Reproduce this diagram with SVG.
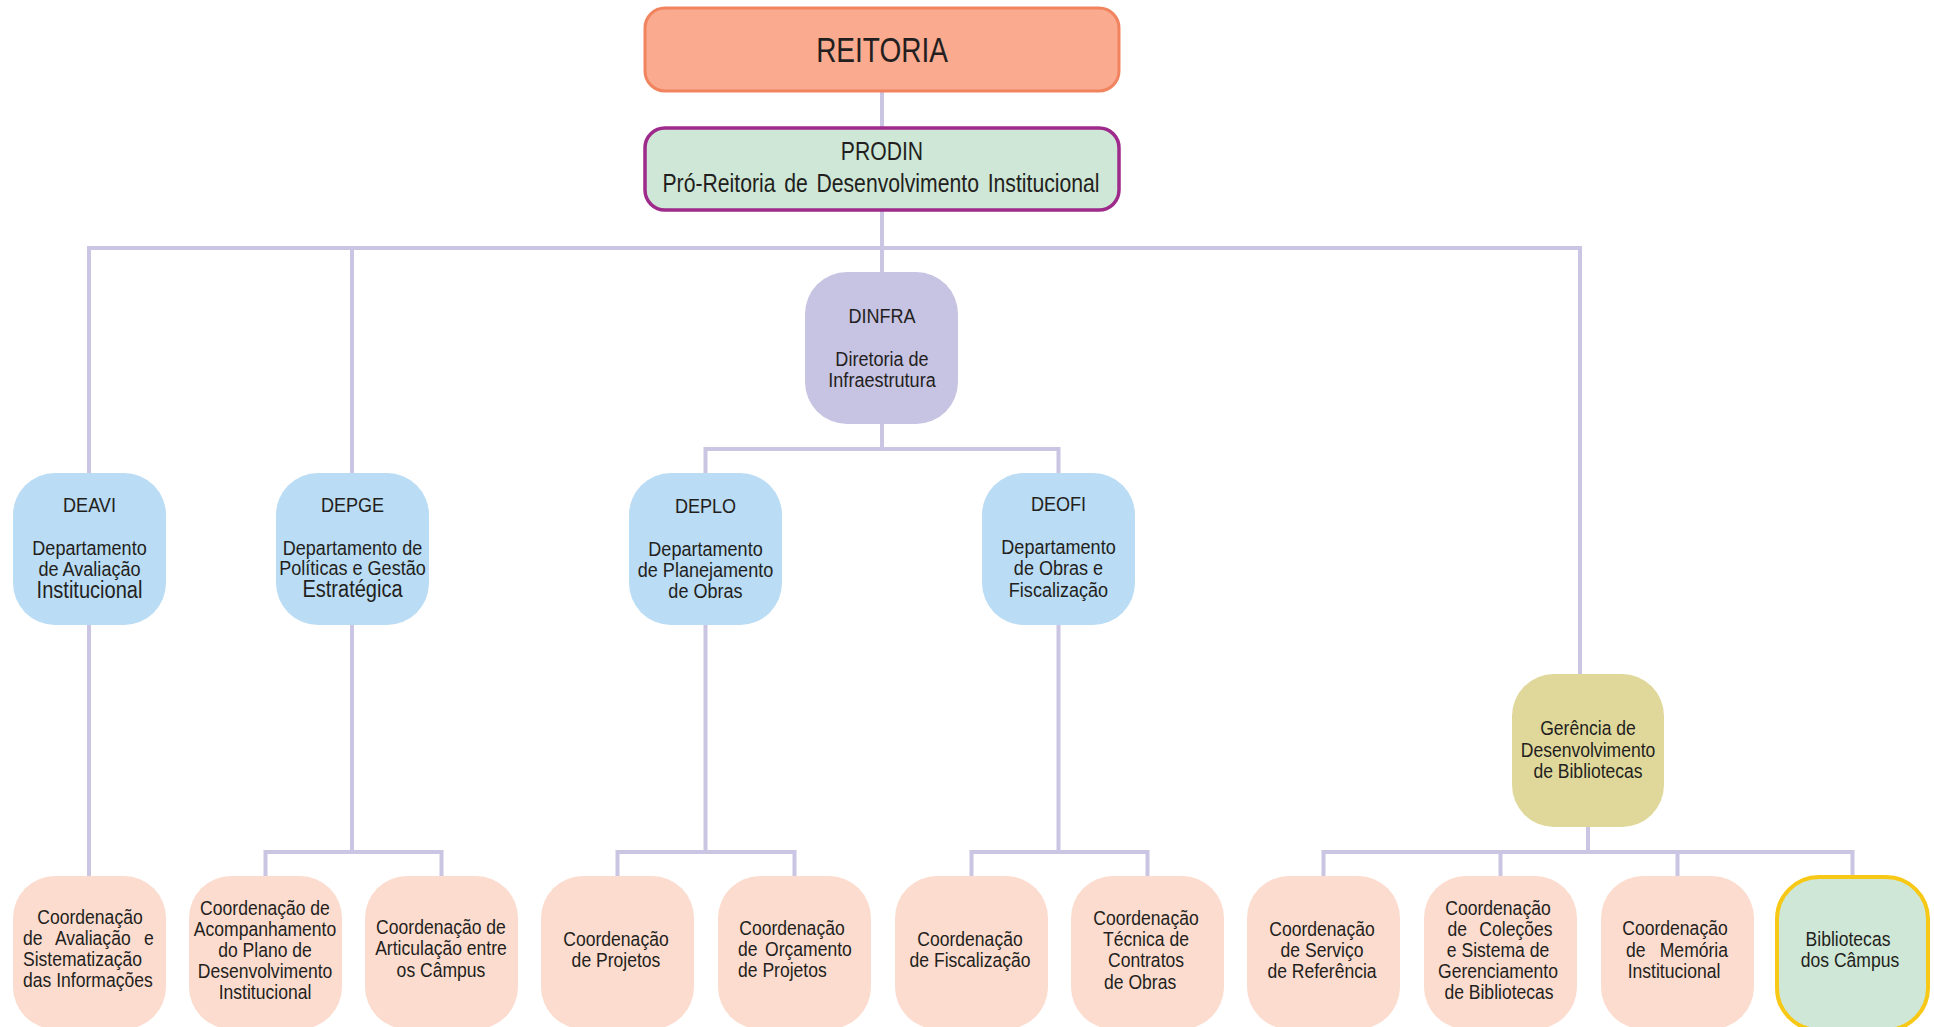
<svg xmlns="http://www.w3.org/2000/svg" width="1934" height="1027" viewBox="0 0 1934 1027">
<style>
.c{fill:none;stroke:#C9C5E3;stroke-width:4;stroke-linejoin:miter}
.t{font-family:"Liberation Sans",Arial,sans-serif;fill:#231F20;text-anchor:middle}
.s{text-anchor:start}
.f35{font-size:35px}.f25{font-size:26.5px}.f21{font-size:21px}.f23{font-size:23.3px}.f19{font-size:19.5px}
.blue{fill:#BADCF4}.peach{fill:#FCDCCF}
</style>
<rect width="1934" height="1027" fill="#FFFFFF"/>
<g id="connectors">
<path class="c" d="M882 91V127"/>
<path class="c" d="M882 210V272"/>
<path class="c" d="M89 473V248H1580V674"/>
<path class="c" d="M352 248V473"/>
<path class="c" d="M882 424V449"/>
<path class="c" d="M705.5 473V449H1058.5V473"/>
<path class="c" d="M89 625V876"/>
<path class="c" d="M352 625V852"/>
<path class="c" d="M265.5 876V852H441.5V876"/>
<path class="c" d="M705.5 625V852"/>
<path class="c" d="M617.5 876V852H794.5V876"/>
<path class="c" d="M1058.5 625V852"/>
<path class="c" d="M971.5 876V852H1147.5V876"/>
<path class="c" d="M1588 827V852"/>
<path class="c" d="M1323.5 876V852H1852.5V876"/>
<path class="c" d="M1500.5 852V876"/>
<path class="c" d="M1677.5 852V876"/>
</g>
<g id="reitoria">
<rect x="645" y="8" width="474" height="83" rx="20" fill="#F9AA8F" stroke="#F2835F" stroke-width="3"/>
<text class="t f35" transform="translate(882 62) scale(0.8 1)">REITORIA</text>
</g>
<g id="prodin">
<rect x="645" y="128" width="474" height="82" rx="20" fill="#CFE7D7" stroke="#9E2A8C" stroke-width="3.5"/>
<text class="t f25" transform="translate(882 160) scale(0.83 1)" style="font-size:25.5px">PRODIN</text>
<text class="t f25" transform="translate(881 192) scale(0.8 1)" style="word-spacing:3.5px">Pró-Reitoria de Desenvolvimento Institucional</text>
</g>
<g id="dinfra">
<rect x="805" y="272" width="153" height="152" rx="42" fill="#C7C3E2"/>
<text class="t f21" transform="translate(882 323) scale(0.86 1)">DINFRA</text>
<text class="t f21" transform="translate(882 366) scale(0.86 1)">Diretoria de</text>
<text class="t f21" transform="translate(882 387) scale(0.86 1)">Infraestrutura</text>
</g>
<g id="deavi">
<rect class="blue" x="13" y="473" width="153" height="152" rx="42"/>
<text class="t f21" transform="translate(89.5 512) scale(0.86 1)">DEAVI</text>
<text class="t f21" transform="translate(89.5 555) scale(0.86 1)">Departamento</text>
<text class="t f21" transform="translate(89.5 576) scale(0.86 1)">de Avaliação</text>
<text class="t f23" transform="translate(89.5 598) scale(0.86 1)">Institucional</text>
</g>
<g id="depge">
<rect class="blue" x="276" y="473" width="153" height="152" rx="42"/>
<text class="t f21" transform="translate(352.5 512) scale(0.86 1)">DEPGE</text>
<text class="t f21" transform="translate(352.5 555) scale(0.86 1)">Departamento de</text>
<text class="t f21" transform="translate(352.5 575) scale(0.86 1)">Políticas e Gestão</text>
<text class="t f23" transform="translate(352.5 597) scale(0.86 1)">Estratégica</text>
</g>
<g id="deplo">
<rect class="blue" x="629" y="473" width="153" height="152" rx="42"/>
<text class="t f21" transform="translate(705.5 513) scale(0.86 1)">DEPLO</text>
<text class="t f21" transform="translate(705.5 556) scale(0.86 1)">Departamento</text>
<text class="t f21" transform="translate(705.5 577) scale(0.86 1)">de Planejamento</text>
<text class="t f21" transform="translate(705.5 598) scale(0.86 1)">de Obras</text>
</g>
<g id="deofi">
<rect class="blue" x="982" y="473" width="153" height="152" rx="42"/>
<text class="t f21" transform="translate(1058.5 511) scale(0.86 1)">DEOFI</text>
<text class="t f21" transform="translate(1058.5 554) scale(0.86 1)">Departamento</text>
<text class="t f21" transform="translate(1058.5 575) scale(0.86 1)">de Obras e</text>
<text class="t f21" transform="translate(1058.5 597) scale(0.86 1)">Fiscalização</text>
</g>
<g id="gerencia">
<rect x="1512" y="674" width="152" height="153" rx="42" fill="#E0D89B"/>
<text class="t f19" transform="translate(1588 735) scale(0.9 1)">Gerência de</text>
<text class="t f19" transform="translate(1588 757) scale(0.9 1)">Desenvolvimento</text>
<text class="t f19" transform="translate(1588 778) scale(0.9 1)">de Bibliotecas</text>
</g>
<g id="coord-avaliacao">
<rect class="peach" x="13" y="876" width="153" height="153" rx="42"/>
<text class="t f19" transform="translate(90 924) scale(0.9 1)">Coordenação</text>
<text class="t f19 s" transform="translate(23 945) scale(0.9 1)" style="word-spacing:9.4px">de Avaliação e</text>
<text class="t f19 s" transform="translate(23 966) scale(0.9 1)">Sistematização</text>
<text class="t f19 s" transform="translate(23 987) scale(0.9 1)">das Informações</text>
</g>
<g id="coord-acompanhamento">
<rect class="peach" x="189" y="876" width="153" height="153" rx="42"/>
<text class="t f19" transform="translate(265 915) scale(0.9 1)">Coordenação de</text>
<text class="t f19" transform="translate(265 936) scale(0.9 1)">Acompanhamento</text>
<text class="t f19" transform="translate(265 957) scale(0.9 1)">do Plano de</text>
<text class="t f19" transform="translate(265 978) scale(0.9 1)">Desenvolvimento</text>
<text class="t f19" transform="translate(265 999) scale(0.9 1)">Institucional</text>
</g>
<g id="coord-articulacao">
<rect class="peach" x="365" y="876" width="153" height="153" rx="42"/>
<text class="t f19" transform="translate(441 934) scale(0.9 1)">Coordenação de</text>
<text class="t f19" transform="translate(441 955) scale(0.9 1)">Articulação entre</text>
<text class="t f19" transform="translate(441 977) scale(0.9 1)">os Câmpus</text>
</g>
<g id="coord-projetos">
<rect class="peach" x="541" y="876" width="153" height="153" rx="42"/>
<text class="t f19" transform="translate(616 946) scale(0.9 1)">Coordenação</text>
<text class="t f19" transform="translate(616 967) scale(0.9 1)">de Projetos</text>
</g>
<g id="coord-orcamento">
<rect class="peach" x="718" y="876" width="153" height="153" rx="42"/>
<text class="t f19" transform="translate(792 935) scale(0.9 1)">Coordenação</text>
<text class="t f19 s" transform="translate(738 956) scale(0.9 1)" style="word-spacing:3px">de Orçamento</text>
<text class="t f19 s" transform="translate(738 977) scale(0.9 1)">de Projetos</text>
</g>
<g id="coord-fiscalizacao">
<rect class="peach" x="895" y="876" width="153" height="153" rx="42"/>
<text class="t f19" transform="translate(970 946) scale(0.9 1)">Coordenação</text>
<text class="t f19" transform="translate(970 967) scale(0.9 1)">de Fiscalização</text>
</g>
<g id="coord-contratos">
<rect class="peach" x="1071" y="876" width="153" height="153" rx="42"/>
<text class="t f19" transform="translate(1146 925) scale(0.9 1)">Coordenação</text>
<text class="t f19" transform="translate(1146 946) scale(0.9 1)">Técnica de</text>
<text class="t f19" transform="translate(1146 967) scale(0.9 1)">Contratos</text>
<text class="t f19 s" transform="translate(1104 989) scale(0.9 1)">de Obras</text>
</g>
<g id="coord-referencia">
<rect class="peach" x="1247" y="876" width="153" height="153" rx="42"/>
<text class="t f19" transform="translate(1322 936) scale(0.9 1)">Coordenação</text>
<text class="t f19" transform="translate(1322 957) scale(0.9 1)">de Serviço</text>
<text class="t f19" transform="translate(1322 978) scale(0.9 1)">de Referência</text>
</g>
<g id="coord-colecoes">
<rect class="peach" x="1424" y="876" width="153" height="153" rx="42"/>
<text class="t f19" transform="translate(1498 915) scale(0.9 1)">Coordenação</text>
<text class="t f19" transform="translate(1500 936) scale(0.9 1)" style="word-spacing:8.3px">de Coleções</text>
<text class="t f19" transform="translate(1498 957) scale(0.9 1)">e Sistema de</text>
<text class="t f19" transform="translate(1498 978) scale(0.9 1)">Gerenciamento</text>
<text class="t f19" transform="translate(1499 999) scale(0.9 1)">de Bibliotecas</text>
</g>
<g id="coord-memoria">
<rect class="peach" x="1601" y="876" width="153" height="153" rx="42"/>
<text class="t f19" transform="translate(1675 935) scale(0.9 1)">Coordenação</text>
<text class="t f19" transform="translate(1677 957) scale(0.9 1)" style="word-spacing:10.4px">de Memória</text>
<text class="t f19" transform="translate(1674 978) scale(0.9 1)">Institucional</text>
</g>
<g id="bibliotecas-campus">
<rect x="1777" y="877" width="151" height="153" rx="42" fill="#CFE7D6" stroke="#F7C815" stroke-width="4"/>
<text class="t f19" transform="translate(1848 946) scale(0.9 1)">Bibliotecas</text>
<text class="t f19" transform="translate(1850 967) scale(0.9 1)">dos Câmpus</text>
</g>
</svg>
